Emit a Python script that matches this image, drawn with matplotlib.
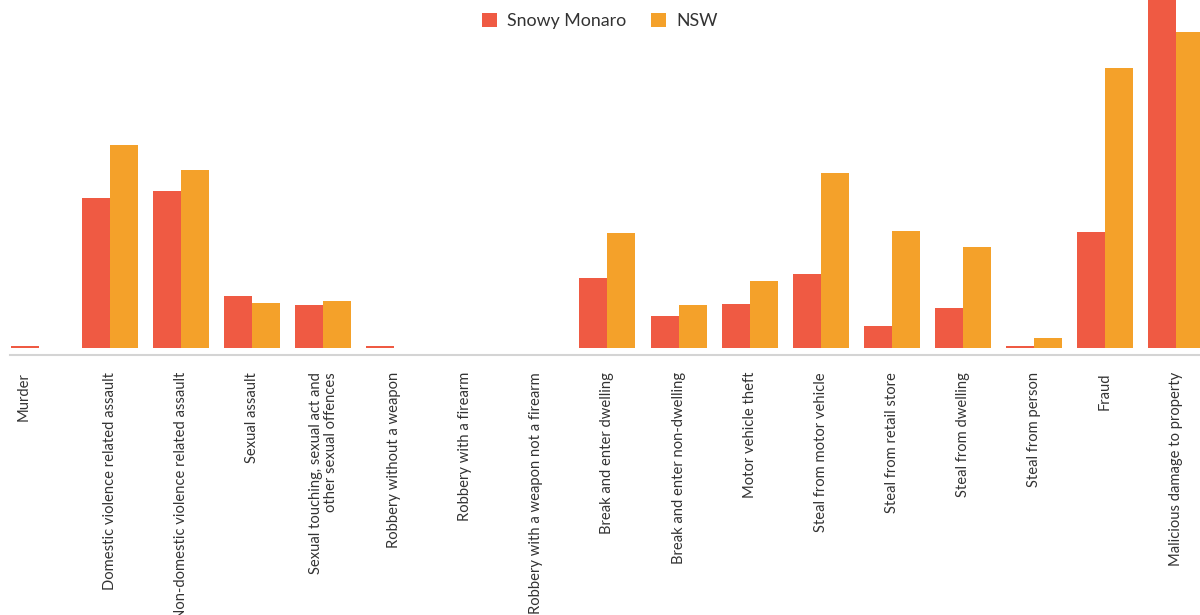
import matplotlib
matplotlib.use("Agg")
import matplotlib.pyplot as plt
import numpy as np
from matplotlib.patches import Patch

plt.rcParams["font.family"] = ["Lato", "DejaVu Sans"]

# ── 資料 ─────────────────────────────────────────────────────────────
categories = [
    "Murder",
    "Domestic violence related assault",
    "Non-domestic violence related assault",
    "Sexual assault",
    "Sexual touching, sexual act and\nother sexual offences",
    "Robbery without a weapon",
    "Robbery with a firearm",
    "Robbery with a weapon not a firearm",
    "Break and enter dwelling",
    "Break and enter non-dwelling",
    "Motor vehicle theft",
    "Steal from motor vehicle",
    "Steal from retail store",
    "Steal from dwelling",
    "Steal from person",
    "Fraud",
    "Malicious damage to property",
]
snowy_monaro = [1.8, 150, 157, 52, 43, 1.8, 0, 0, 70, 32, 44, 74, 22, 40, 1.8, 116, 380]
nsw          = [0, 203, 178, 45, 47, 0, 0, 0, 115, 43, 67, 175, 117, 101, 10, 280, 316]

RED = "#EF5A43"
ORANGE = "#F4A12A"
AXIS = "#D4D4D4"
TEXT = "#333333"

W, H = 1200, 615
fig = plt.figure(figsize=(W / 100, H / 100), dpi=100)
# 繪圖區：x 10..1200 px，y 0..355 px（自上而下）
ax = fig.add_axes([10 / W, 1 - 355 / H, 1190 / W, 355 / H])

x = np.arange(len(categories))
step = 71.07
c0 = 38.9
bw = 28 / step

ax.bar(x - bw / 2, snowy_monaro, bw, color=RED, edgecolor="none")
ax.bar(x + bw / 2, nsw, bw, color=ORANGE, edgecolor="none")

ax.set_xlim((10 - c0) / step, (1200 - c0) / step)
ax.set_ylim(-7, 348)

for s in ["top", "right", "left"]:
    ax.spines[s].set_visible(False)
ax.spines["bottom"].set_color(AXIS)
ax.spines["bottom"].set_linewidth(1.5)
ax.set_yticks([])
ax.set_xticks([])

# 類別標籤（旋轉 90°）
for i, lab in enumerate(categories):
    xi = i if i > 0 else (24 - c0) / step
    ax.text(xi, -24, lab, rotation=90, ha="center", va="top",
            multialignment="right", fontsize=10.6, color=TEXT,
            clip_on=False, transform=ax.transData, linespacing=1.1)

handles = [Patch(facecolor=RED, edgecolor="none", label="Snowy Monaro"),
           Patch(facecolor=ORANGE, edgecolor="none", label="NSW")]
fig.legend(handles=handles, loc="center", bbox_to_anchor=(600 / W, 1 - 21 / H),
           ncol=2, frameon=False, fontsize=12.8, handlelength=0.8,
           handleheight=0.8, handletextpad=0.6, columnspacing=1.4,
           labelcolor=TEXT)

fig.savefig("out.png", dpi=100)
